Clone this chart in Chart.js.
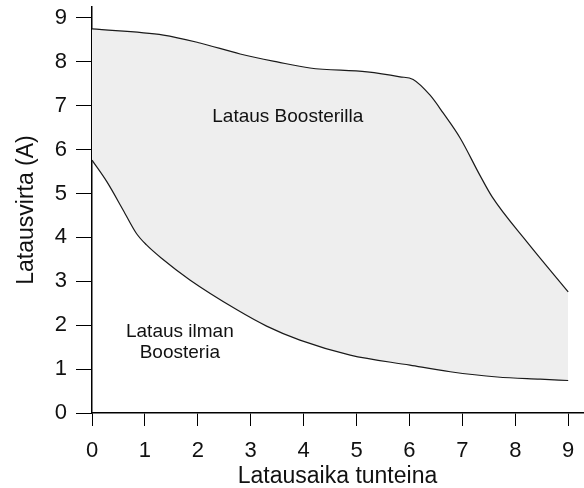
<!DOCTYPE html>
<html>
<head>
<meta charset="utf-8">
<script src="https://cdn.jsdelivr.net/npm/chart.js@4.4.1/dist/chart.umd.min.js"></script>
<style>
html,body{margin:0;padding:0;background:#fff;}
#wrap{width:584px;height:488px;position:relative;}
</style>
</head>
<body>
<div id="wrap"><canvas id="c" width="584" height="488"></canvas></div>
<script>
// Data (hours, amps)
const withoutBoosterX = [0, 0.28, 0.59, 0.84, 1.03, 1.32, 1.85, 2.74, 3.3, 3.93, 4.88, 6.01, 6.77, 7.66, 8.47, 9.0];
const withoutBoosterY = [5.76, 5.27, 4.62, 4.09, 3.83, 3.52, 3.03, 2.35, 1.98, 1.66, 1.32, 1.09, 0.94, 0.82, 0.77, 0.74];
const withBoosterX = [0, 1.35, 2.04, 2.8, 3.5, 4.12, 5.2, 5.82, 6.07, 6.39, 6.64, 6.96, 7.33, 7.56, 8.22, 9.0];
const withBoosterY = [8.75, 8.61, 8.43, 8.18, 8.0, 7.86, 7.77, 7.66, 7.6, 7.24, 6.83, 6.26, 5.42, 4.93, 3.9, 2.76];
const xTicks = [0, 1, 2, 3, 4, 5, 6, 7, 8, 9];
const yTicks = [0, 1, 2, 3, 4, 5, 6, 7, 8, 9];
const xTitle = 'Latausaika tunteina';
const yTitle = 'Latausvirta (A)';
const labelTexts = ['Lataus Boosterilla', 'Lataus ilman', 'Boosteria'];
const labelX = [3.7, 1.66, 1.66];
const labelY = [6.74, 1.85, 1.37];

const pts = (xs, ys) => xs.map((x, i) => ({x: x, y: ys[i]}));
const FONT = "'Liberation Sans', Arial, Helvetica, sans-serif";

const textPlugin = {
  id: 'areaLabels',
  afterDatasetsDraw(chart) {
    const ctx = chart.ctx;
    const xs = chart.scales.x, ys = chart.scales.y;
    ctx.save();
    ctx.fillStyle = '#111';
    ctx.font = '19px ' + FONT;
    ctx.textAlign = 'center';
    ctx.textBaseline = 'middle';
    labelTexts.forEach((t, i) => {
      ctx.fillText(t, xs.getPixelForValue(labelX[i]), ys.getPixelForValue(labelY[i]));
    });
    ctx.restore();
  }
};

new Chart(document.getElementById('c'), {
  type: 'line',
  data: {
    datasets: [
      {
        label: 'Lataus ilman Boosteria',
        data: pts(withoutBoosterX, withoutBoosterY),
        borderColor: '#1a1a1a',
        borderWidth: 1.2,
        pointRadius: 0,
        cubicInterpolationMode: 'monotone',
        fill: false
      },
      {
        label: 'Lataus Boosterilla',
        data: pts(withBoosterX, withBoosterY),
        borderColor: '#1a1a1a',
        borderWidth: 1.2,
        pointRadius: 0,
        cubicInterpolationMode: 'monotone',
        backgroundColor: '#eeeeee',
        fill: '-1'
      }
    ]
  },
  options: {
    responsive: false,
    animation: false,
    layout: {padding: {top: 7, right: 1, left: 0, bottom: 0}},
    plugins: {legend: {display: false}, tooltip: {enabled: false}},
    scales: {
      x: {
        type: 'linear',
        min: 0,
        max: 9.28,
        afterBuildTicks: s => { s.ticks = xTicks.map(v => ({value: v})); },
        afterFit: s => { s.height = 75; s.paddingLeft = 0; s.paddingRight = 0; },
        grid: {drawOnChartArea: false, drawTicks: true, tickLength: 13, color: '#000', lineWidth: 1},
        border: {display: true, color: '#000', width: 1.5},
        ticks: {color: '#111', font: {family: FONT, size: 22}, padding: 12, maxRotation: 0},
        title: {display: true, text: xTitle, color: '#111', font: {family: FONT, size: 23, lineHeight: 1.0}, padding: {top: 0, bottom: 0}}
      },
      y: {
        type: 'linear',
        min: 0,
        max: 9.25,
        afterBuildTicks: s => { s.ticks = yTicks.map(v => ({value: v})); },
        afterFit: s => { s.width = 92; s.paddingTop = 0; s.paddingBottom = 0; },
        grid: {drawOnChartArea: false, drawTicks: true, tickLength: 16, color: '#000', lineWidth: 1},
        border: {display: true, color: '#000', width: 1.5},
        ticks: {color: '#111', font: {family: FONT, size: 22}, padding: 9},
        title: {display: true, text: yTitle, color: '#111', font: {family: FONT, size: 23}, padding: {top: 13, bottom: 0}}
      }
    }
  },
  plugins: [textPlugin]
});
</script>
</body>
</html>
